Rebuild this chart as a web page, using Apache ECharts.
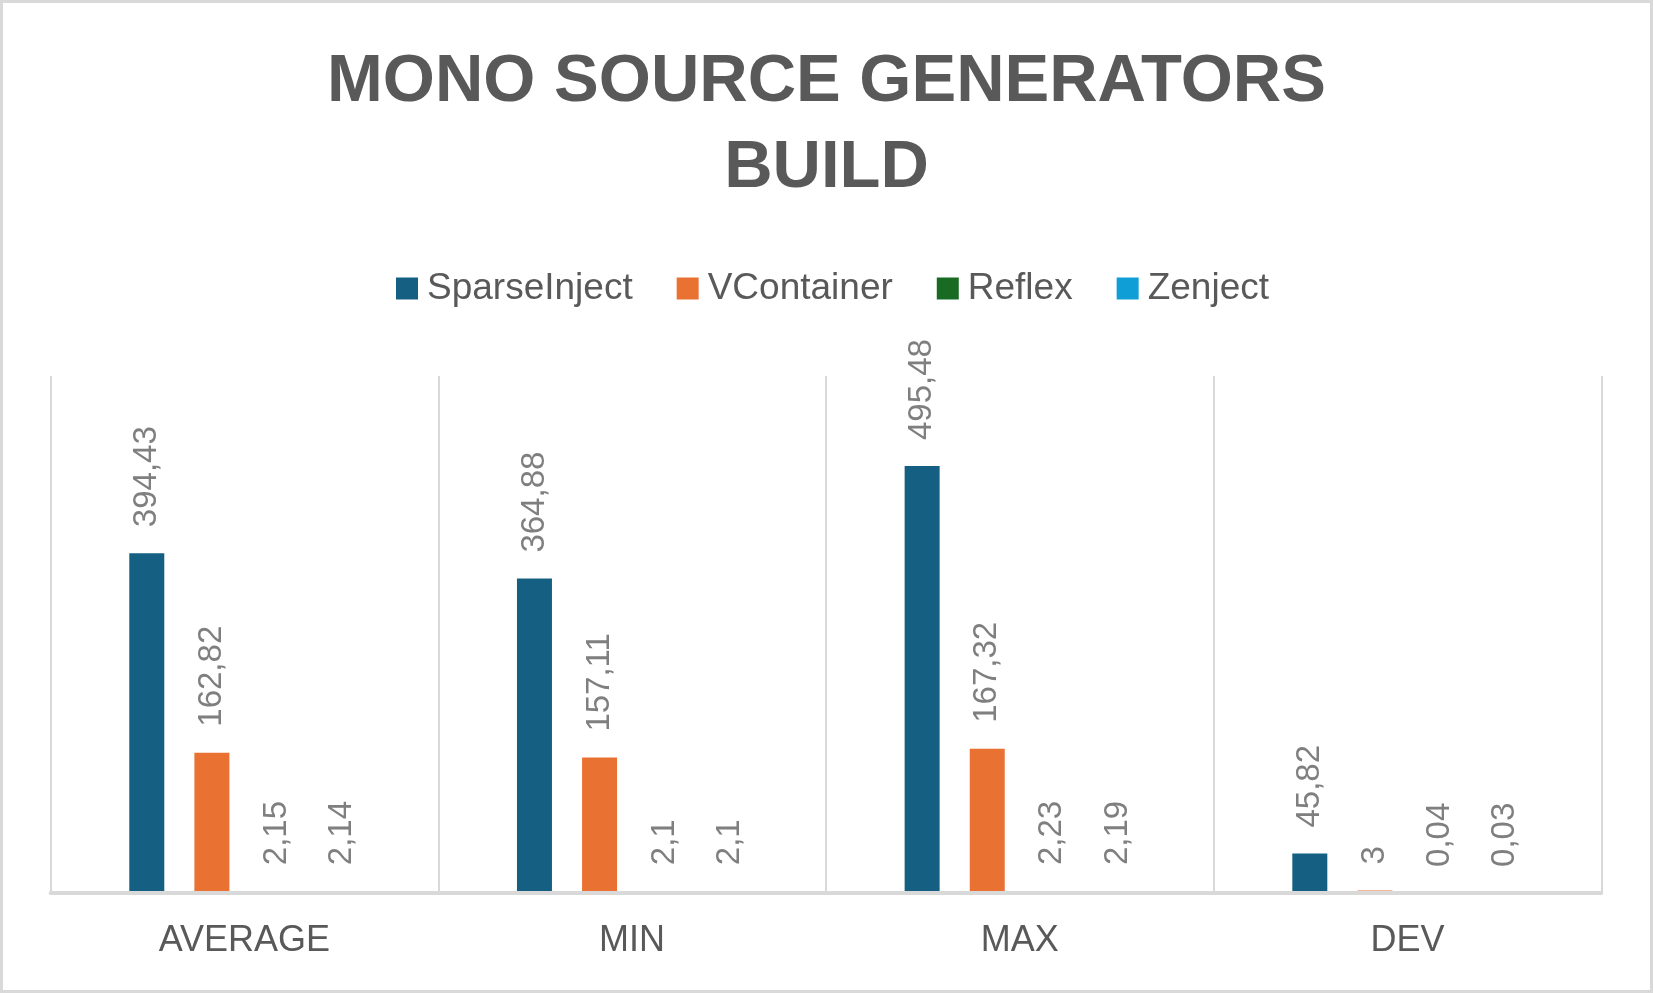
<!DOCTYPE html>
<html>
<head>
    <meta charset="utf-8">
    <title>Mono Source Generators Build</title>
    <style type="text/css">
        html, body {
            margin: 0;
            height: 100%;
            background: #fff;
        }
        #chart {
            box-sizing: border-box;
            width: 1653px;
            height: 993px;
            border: 3px solid #d9d9d9;
        }
    </style>
</head>
<body>

    <div id="chart"></div>
    <script src="https://cdn.jsdelivr.net/npm/echarts@6/dist/echarts.min.js"></script>

    <script>
        var categories = ['AVERAGE', 'MIN', 'MAX', 'DEV'];
        var seriesNames = ['SparseInject', 'VContainer', 'Reflex', 'Zenject'];
        var sparseInject = [394.43, 364.88, 495.48, 45.82];
        var vContainer = [162.82, 157.11, 167.32, 3];
        var reflex = [2.15, 2.1, 2.23, 0.04];
        var zenject = [2.14, 2.1, 2.19, 0.03];
        var colors = ['#156082', '#E97132', '#196B24', '#0F9ED5'];

        var chart = echarts.init(document.getElementById('chart'));

        function makeSeries(name, values) {
            return {
                name: name,
                type: 'bar',
                data: values,
                barWidth: 35,
                barGap: '86%',
                label: {
                    show: true,
                    position: 'top',
                    distance: 26,
                    rotate: 90,
                    align: 'left',
                    verticalAlign: 'middle',
                    fontFamily: 'Liberation Sans',
                    fontSize: 33,
                    color: '#7f7f7f',
                    formatter: function (p) {
                        return String(p.value).replace('.', ',');
                    }
                }
            };
        }

        chart.setOption({
            color: colors,
            animation: false,
            title: {
                text: 'MONO SOURCE GENERATORS\nBUILD',
                left: 'center',
                top: 37,
                padding: 0,
                textStyle: {
                    fontFamily: 'Liberation Sans',
                    fontWeight: 'bold',
                    fontSize: 67,
                    lineHeight: 86,
                    color: '#595959'
                }
            },
            legend: {
                data: seriesNames,
                left: 393,
                top: 267,
                padding: 0,
                itemWidth: 22,
                itemHeight: 22,
                itemGap: 44,
                icon: 'rect',
                textStyle: {
                    fontFamily: 'Liberation Sans',
                    fontSize: 37,
                    color: '#595959',
                    padding: [0, 0, 0, 4]
                }
            },
            grid: {
                left: 47.6,
                right: 48.7,
                top: 373,
                bottom: 97
            },
            xAxis: {
                type: 'category',
                data: categories,
                z: 3,
                axisLine: { lineStyle: { color: '#d9d9d9', width: 4 } },
                axisTick: { show: false },
                splitLine: { show: true, lineStyle: { color: '#d9d9d9', width: 2 } },
                axisLabel: {
                    margin: 30,
                    fontFamily: 'Liberation Sans',
                    fontSize: 36,
                    color: '#595959'
                }
            },
            yAxis: {
                type: 'value',
                min: 0,
                max: 600,
                show: false
            },
            series: [
                makeSeries(seriesNames[0], sparseInject),
                makeSeries(seriesNames[1], vContainer),
                makeSeries(seriesNames[2], reflex),
                makeSeries(seriesNames[3], zenject)
            ]
        });

        window.addEventListener('resize', function () {
            chart.resize();
        });
    </script>
</body>
</html>
